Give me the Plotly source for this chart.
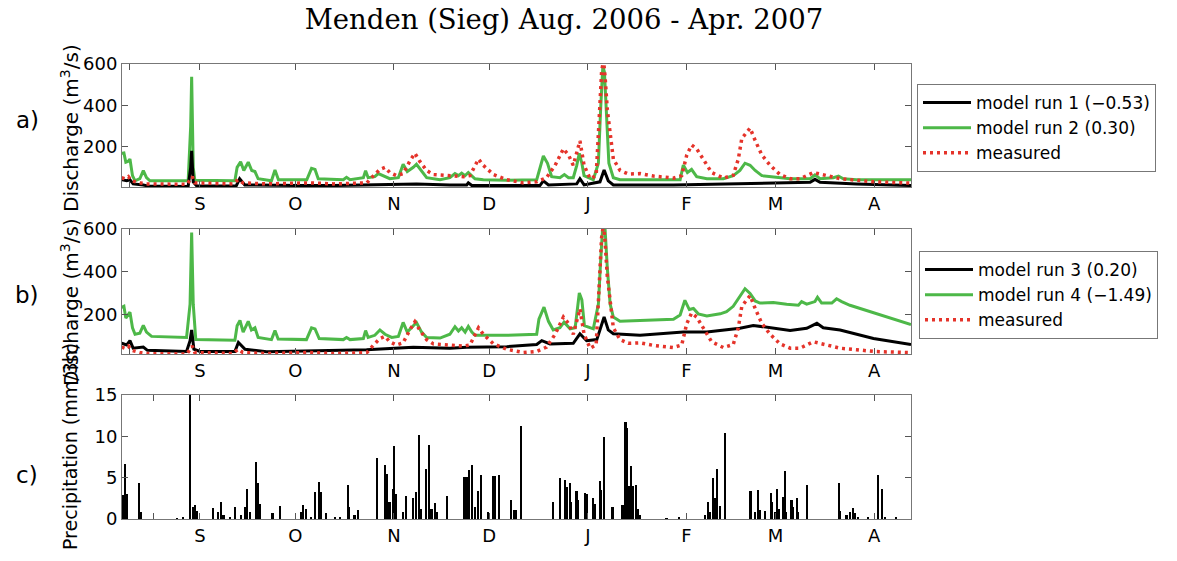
import plotly.graph_objects as go

# ---- time axis: day number, 0 = 1 Aug 2006 ----
month_day = [31, 61, 92, 122, 153, 184, 212, 243]
month_lab = ["S", "O", "N", "D", "J", "F", "M", "A"]

# ---- measured discharge (m3/s) ----
meas_day = [6.4, 7.4, 8.5, 9.5, 12.1, 14.2, 26.9, 28.1, 28.6, 29.4, 41.4, 43.0, 44.5, 52.0, 65.6, 73.0,
            83.5, 85.6, 87.6, 89.2, 90.7, 92.8, 94.9, 97.0, 98.6, 100.1, 102.3, 104.4, 108.6, 111.7,
            113.8, 115.9, 117.5, 118.6, 120.1, 123.3, 127.5, 132.7, 136.9, 140.0, 142.7, 145.3, 146.9,
            148.4, 150.5, 151.8, 153.7, 155.6, 156.6, 157.3, 157.9, 158.4, 159.1, 160.0, 161.0, 163.1,
            165.7, 169.4, 173.6, 179.9, 182.5, 184.1, 185.6, 187.2, 189.3, 191.9, 195.6, 198.7, 200.3,
            201.4, 202.7, 204.0, 205.6, 207.7, 210.3, 213.4, 216.6, 219.7, 223.9, 227.0, 232.3, 237.5,
            242.8, 254.6]
meas_q = [50, 45, 55, 35, 25, 20, 18, 45, 55, 25, 20, 40, 25, 20, 25, 20,
          25, 60, 90, 100, 75, 60, 70, 130, 168, 130, 85, 65, 60, 55,
          55, 60, 110, 140, 110, 65, 40, 25, 30, 50, 110, 190, 160,
          110, 228, 110, 45, 60, 350, 560, 620, 540, 380, 250, 140, 85,
          68, 70, 58, 48, 60, 160, 208, 190, 135, 75, 48, 62, 140,
          240, 265, 290, 230, 160, 110, 65, 45, 45, 75, 65, 45, 38,
          30, 24]

# ---- model run 1 ----
run1_day = [6.4, 8.0, 9.0, 10.0, 13.2, 14.5, 27.3, 28.1, 28.4, 28.9, 30.0, 42.4, 43.5, 45.1, 62.5, 73.0,
            94.9, 99.1, 109.6, 114.9, 115.4, 116.5, 137.9, 139.0, 140.6, 149.5, 150.5, 151.8, 156.8,
            158.1, 159.4, 161.0, 179.9, 200.8, 211.3, 222.9, 224.4, 226.0, 237.5, 254.6]
run1_q = [40, 35, 40, 20, 15, 10, 8, 100, 180, 30, 10, 10, 45, 15, 12, 12,
          18, 20, 15, 15, 25, 12, 12, 35, 15, 20, 45, 15, 30,
          87, 35, 15, 15, 22, 25, 28, 42, 28, 20, 12]

# ---- model run 2 ----
run2_day = [6.4, 7.1, 7.7, 8.5, 9.0, 9.8, 10.6, 12.1, 13.2, 14.2, 15.3, 27.3, 28.1, 28.4, 28.9, 29.4,
            42.0, 42.7, 43.8, 44.8, 46.2, 47.3, 48.3, 49.3, 53.5, 54.6, 55.7, 64.6, 66.1, 67.2, 68.2,
            76.1, 77.1, 78.2, 82.4, 83.1, 83.9, 86.0, 87.1, 88.6, 90.7, 93.4, 94.9, 96.2, 98.1, 99.1,
            100.7, 102.3, 106.5, 109.6, 111.2, 112.3, 113.3, 114.4, 115.4, 116.5, 117.5, 120.1, 127.5,
            136.9, 137.6, 139.0, 140.3, 141.6, 144.2, 145.6, 146.9, 148.4, 149.5, 150.3, 151.1, 151.8,
            154.7, 156.3, 157.0, 157.7, 158.2, 158.9, 159.6, 161.0, 163.1, 182.0, 183.0, 184.3, 185.6,
            187.2, 190.4, 195.6, 198.7, 200.8, 202.4, 204.0, 205.6, 207.7, 210.3, 216.6, 222.9, 224.4,
            226.0, 230.2, 231.8, 233.3, 237.5, 254.6]
run2_q = [168, 170, 125, 130, 140, 60, 35, 45, 84, 50, 35, 35, 300, 538, 100, 38,
          35, 100, 127, 85, 125, 85, 80, 45, 35, 87, 40, 40, 95, 90, 45,
          40, 52, 40, 50, 84, 50, 55, 70, 60, 45, 50, 115, 80, 100, 115,
          80, 50, 40, 50, 70, 60, 72, 60, 75, 60, 45, 40, 38,
          40, 80, 155, 120, 55, 50, 65, 50, 50, 110, 168, 120, 60,
          40, 120, 380, 590, 560, 300, 120, 50, 40, 40, 111, 75, 90,
          55, 45, 45, 60, 85, 120, 110, 85, 60, 55, 45, 45, 64,
          45, 50, 58, 45, 40, 40]

# ---- model run 3 ----
run3_day = [6.4, 8.0, 9.0, 10.0, 13.2, 14.5, 26.8, 27.9, 28.4, 29.1, 31.0, 42.0, 43.1, 45.2, 52.0, 72.9,
            83.4, 98.1, 109.6, 114.9, 127.5, 136.9, 138.5, 141.1, 148.4, 150.5, 152.6, 155.8, 158.1,
            159.4, 161.0, 169.4, 183.0, 190.4, 200.8, 205.0, 211.3, 216.6, 221.8, 225.0, 227.0, 232.3,
            242.8, 254.6]
run3_q = [68, 60, 80, 45, 50, 35, 30, 80, 130, 40, 30, 30, 72, 40, 28, 35,
          38, 50, 45, 50, 52, 62, 80, 65, 68, 112, 80, 85, 190,
          130, 112, 105, 120, 120, 138, 151, 140, 128, 138, 161, 140, 130,
          90, 62]

# ---- model run 4 ----
run4_day = [6.4, 7.1, 7.7, 8.5, 9.0, 9.8, 10.6, 12.1, 13.2, 14.2, 15.8, 26.8, 27.9, 28.4, 28.9, 29.7,
            42.0, 42.7, 43.6, 44.6, 46.2, 47.2, 48.3, 49.3, 53.5, 54.6, 55.6, 64.5, 66.1, 67.2, 68.5,
            76.1, 77.1, 78.2, 82.4, 83.1, 83.9, 86.0, 87.6, 89.2, 91.3, 93.4, 94.9, 96.2, 98.1, 99.1,
            100.7, 102.3, 106.5, 109.6, 111.2, 112.3, 113.3, 114.4, 115.4, 116.5, 117.5, 127.5, 136.9,
            137.6, 139.2, 140.6, 142.1, 144.2, 145.5, 147.4, 149.0, 149.7, 150.3, 151.1, 151.9, 154.7,
            156.3, 157.0, 157.7, 158.4, 159.1, 160.0, 161.0, 163.1, 169.4, 179.9, 182.0, 183.5, 184.9,
            186.2, 187.7, 190.4, 194.6, 196.6, 198.7, 200.8, 202.4, 204.0, 205.6, 207.1, 211.3, 215.5,
            219.2, 220.2, 221.8, 224.4, 225.2, 226.5, 229.7, 231.2, 232.8, 235.4, 240.7, 247.0, 254.6]
run4_q = [235, 240, 185, 200, 213, 140, 110, 115, 151, 120, 100, 95, 250, 583, 250, 85,
          82, 150, 174, 120, 170, 130, 140, 95, 85, 127, 88, 85, 140, 135, 90,
          85, 95, 85, 90, 127, 95, 105, 130, 110, 95, 100, 165, 120, 150, 165,
          120, 95, 92, 110, 145, 125, 140, 120, 146, 120, 105, 105, 110,
          180, 236, 170, 130, 140, 166, 135, 140, 240, 302, 270, 150, 135,
          250, 450, 620, 600, 420, 250, 190, 170, 175, 180, 200, 268, 225,
          230, 205, 195, 205, 215, 240, 285, 322, 300, 265, 255, 258, 250,
          245, 262, 250, 262, 282, 255, 255, 275, 262, 245, 220, 190, 155]

# ---- precipitation (mm/3h) ----
prec_day = [6.8, 7.6, 8.0, 11.9, 12.4, 23.8, 25.7, 28.1, 28.9, 29.4, 30.3, 35.2, 36.8, 37.8, 38.5, 40.4,
            42.0, 43.9, 45.2, 45.9, 46.7, 48.6, 49.3, 50.1, 53.9, 56.4, 63.0, 63.5, 64.3, 66.1, 67.4,
            68.4, 69.1, 70.6, 73.5, 75.0, 77.5, 77.9, 79.7, 80.7, 86.8, 89.2, 89.9, 90.7, 91.8, 92.1,
            92.6, 94.9, 95.8, 98.1, 99.1, 99.9, 100.7, 102.3, 103.0, 103.9, 104.9, 105.6, 108.9, 114.0,
            114.9, 115.7, 116.7, 117.5, 118.6, 119.6, 121.7, 123.3, 123.8, 125.1, 128.8, 129.8, 130.4,
            131.9, 142.1, 144.4, 146.0, 146.6, 147.4, 147.9, 149.5, 150.0, 152.3, 152.9, 154.7, 155.2,
            156.8, 157.3, 158.2, 160.8, 163.9, 164.5, 164.9, 165.4, 165.9, 166.6, 167.1, 168.1, 168.9,
            169.4, 177.8, 181.7, 190.0, 190.9, 191.6, 192.5, 193.0, 193.7, 194.6, 196.1, 204.2, 205.6,
            206.6, 207.1, 208.7, 210.6, 211.1, 211.8, 212.6, 213.0, 214.5, 215.0, 215.5, 217.1, 217.6,
            218.7, 219.2, 222.1, 232.0, 232.3, 234.4, 235.4, 236.5, 237.0, 238.1, 241.2, 244.3, 245.7,
            246.4, 250.1]
prec_mm = [2.9, 6.6, 3.0, 4.4, 0.8, 0.1, 0.15, 16.0, 1.5, 1.7, 1.0, 1.3, 0.9, 2.0, 0.5, 0.3,
           1.4, 0.5, 1.5, 3.6, 0.8, 6.9, 4.4, 1.8, 0.7, 1.6, 0.8, 1.7, 1.2, 0.3, 3.3,
           4.5, 3.3, 0.7, 0.2, 0.2, 4.1, 1.4, 0.5, 1.1, 7.4, 6.5, 5.5, 2.0, 3.6, 8.8,
           3.0, 0.8, 2.8, 2.6, 3.3, 10.2, 1.2, 6.0, 9.0, 1.2, 1.9, 0.8, 2.8, 5.1,
           5.1, 5.9, 6.5, 1.5, 3.4, 5.3, 0.8, 5.2, 5.2, 5.3, 2.3, 1.1, 1.1,
           11.2, 2.1, 4.9, 4.7, 3.9, 4.4, 2.0, 3.4, 2.3, 3.1, 3.0, 2.6, 1.8,
           4.6, 3.5, 9.9, 1.4, 1.7, 1.7, 11.7, 11.0, 4.0, 6.4, 4.0, 4.1, 1.2,
           0.5, 0.1, 0.3, 0.5, 2.1, 0.8, 4.9, 2.5, 6.1, 1.6, 10.4, 3.4, 0.8,
           3.5, 1.1, 1.0, 3.1, 2.0, 0.8, 3.6, 1.2, 2.7, 5.8, 0.8, 2.3, 1.5,
           2.5, 0.9, 4.1, 4.3, 1.0, 0.5, 0.8, 1.3, 0.7, 0.2, 0.2, 5.3, 3.6,
           0.3, 0.2]

GREEN = "#4DB848"
RED = "#E5332A"
SANS = "DejaVu Sans"
W, H = 1177, 561


def px_x(p):
    return p / W


def px_y(p):
    return (H - p) / H


fig = go.Figure()

# panel a
fig.add_trace(go.Scatter(x=run2_day, y=run2_q, mode="lines", name="model run 2 (0.30)",
                         line=dict(color=GREEN, width=3), xaxis="x", yaxis="y",
                         legend="legend", legendrank=2))
fig.add_trace(go.Scatter(x=run1_day, y=run1_q, mode="lines", name="model run 1 (\u22120.53)",
                         line=dict(color="black", width=3), xaxis="x", yaxis="y",
                         legend="legend", legendrank=1))
fig.add_trace(go.Scatter(x=meas_day, y=meas_q, mode="lines", name="measured",
                         line=dict(color=RED, width=3.5, dash="3px,4px"), xaxis="x", yaxis="y",
                         legend="legend", legendrank=3))
# panel b
fig.add_trace(go.Scatter(x=run4_day, y=run4_q, mode="lines", name="model run 4 (\u22121.49)",
                         line=dict(color=GREEN, width=3), xaxis="x2", yaxis="y2",
                         legend="legend2", legendrank=2))
fig.add_trace(go.Scatter(x=run3_day, y=run3_q, mode="lines", name="model run 3 (0.20)",
                         line=dict(color="black", width=3), xaxis="x2", yaxis="y2",
                         legend="legend2", legendrank=1))
fig.add_trace(go.Scatter(x=meas_day, y=meas_q, mode="lines", name="measured",
                         line=dict(color=RED, width=3.5, dash="3px,4px"), xaxis="x2", yaxis="y2",
                         legend="legend2", legendrank=3))
# panel c
fig.add_trace(go.Bar(x=prec_day, y=prec_mm, width=0.5, marker=dict(color="black", line=dict(width=0)),
                     xaxis="x3", yaxis="y3", showlegend=False))

xdom = [px_x(122), px_x(911)]
tickfont = dict(family=SANS, size=18, color="black")


def xax(anchor, extra):
    return dict(domain=xdom, anchor=anchor, range=[6.5, 254.6], automargin=False,
                tickvals=[extra] + month_day, ticktext=[""] + month_lab,
                ticks="inside", ticklen=6, tickcolor="#555", mirror="ticks",
                showline=True, linecolor="#777", linewidth=1, showgrid=False, zeroline=False,
                tickfont=tickfont)


def yax(anchor, dom, rng, tv):
    return dict(domain=dom, anchor=anchor, range=rng, tickvals=tv, automargin=False,
                ticks="inside", ticklen=6, tickcolor="#555", mirror="ticks",
                showline=True, linecolor="#777", linewidth=1, showgrid=False, zeroline=False,
                tickfont=tickfont)


legend_common = dict(xanchor="left", yanchor="top", bordercolor="#777", borderwidth=1,
                     bgcolor="white", itemwidth=48, entrywidth=205, entrywidthmode="pixels",
                     font=dict(family=SANS, size=17, color="black"), traceorder="normal")

fig.update_layout(
    width=W, height=H,
    margin=dict(l=0, r=0, t=0, b=0, autoexpand=False),
    paper_bgcolor="white", plot_bgcolor="white",
    bargap=0,
    xaxis=xax("y", 8.7),
    yaxis=yax("x", [px_y(187), px_y(64)], [5, 600], [200, 400, 600]),
    xaxis2=xax("y2", 8.7),
    yaxis2=yax("x2", [px_y(354), px_y(229)], [18, 600], [200, 400, 600]),
    xaxis3=xax("y3", 16.5),
    yaxis3=yax("x3", [px_y(519), px_y(395)], [0, 15], [0, 5, 10, 15]),
    legend=dict(x=px_x(917), y=px_y(84), **legend_common),
    legend2=dict(x=px_x(919), y=px_y(251), **legend_common),
    title=dict(text="Menden (Sieg) Aug. 2006 - Apr. 2007", x=px_x(564), xanchor="center",
               y=px_y(19), yanchor="middle",
               font=dict(family="DejaVu Serif", size=27.5, color="black")),
    showlegend=True,
)

# y-axis titles (rotated text)
for txt, yy, fs in [("Discharge (m<sup>3</sup>/s)", 128, 20),
                    ("Discharge (m<sup>3</sup>/s)", 302, 20),
                    ("Precipitation (mm/3h)", 447, 19)]:
    fig.add_annotation(text=txt, x=px_x(70), y=px_y(yy), xref="paper", yref="paper",
                       showarrow=False, textangle=-90,
                       font=dict(family=SANS, size=fs, color="black"),
                       xanchor="center", yanchor="middle")

for lab, yy in [("a)", 120), ("b)", 295), ("c)", 475)]:
    fig.add_annotation(text=lab, x=px_x(27), y=px_y(yy), xref="paper", yref="paper",
                       showarrow=False, font=dict(family=SANS, size=23, color="black"),
                       xanchor="center", yanchor="middle")

fig.write_html("out.html")
